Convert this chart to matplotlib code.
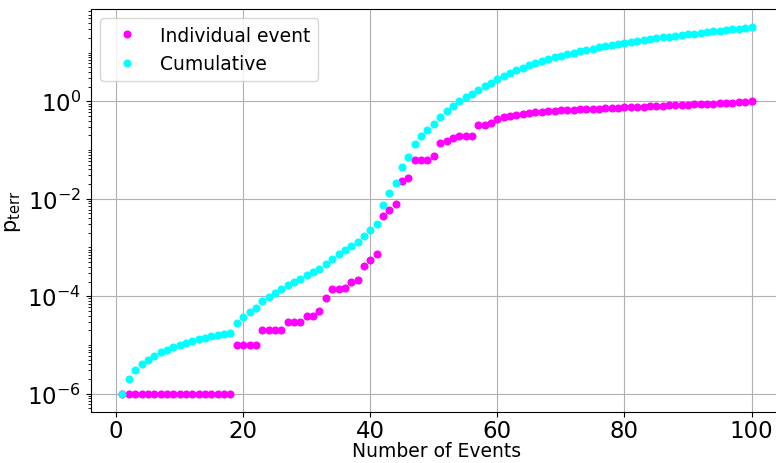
import numpy as np
import matplotlib
matplotlib.use("Agg")
import matplotlib.pyplot as plt
from matplotlib.ticker import LogLocator, NullFormatter

# probability of each event, events numbered 1..100
n_events = np.arange(1, 101)
p_individual = np.array(
    [1e-6] * 18
    + [1e-5] * 4
    + [2e-5] * 4
    + [3e-5] * 3
    + [4e-5] * 2
    + [5e-5, 9e-5, 1.4e-4, 1.4e-4, 1.5e-4, 2.0e-4, 2.2e-4, 4.2e-4, 5.5e-4, 7.4e-4]
    + [4.4e-3, 5.8e-3, 7.9e-3, 0.023, 0.027, 0.063, 0.063, 0.063, 0.077]
    + [0.139, 0.153, 0.18, 0.197, 0.197, 0.197]
    + [0.33, 0.33, 0.35, 0.43, 0.47, 0.50, 0.53, 0.56, 0.58, 0.60]
    + [0.61, 0.63, 0.64, 0.65, 0.66, 0.67, 0.68, 0.69, 0.70, 0.71]
    + [0.72, 0.73, 0.74, 0.75, 0.76, 0.77, 0.78, 0.79, 0.80, 0.81]
    + [0.82, 0.83, 0.84, 0.85, 0.86, 0.87, 0.88, 0.89, 0.91, 0.92]
    + [0.94, 0.96, 0.98, 1.00]
)
p_cumulative = np.cumsum(p_individual)

fig = plt.figure(figsize=(7.76, 4.64), dpi=100)
ax = fig.add_axes([91 / 776, 51 / 464, 692 / 776, 403 / 464])

ax.plot(n_events, p_individual, "o", color="#ff00ff", ms=4.8, ls="none",
        label="Individual event")
ax.plot(n_events, p_cumulative, "o", color="#00ffff", ms=4.8, ls="none",
        label="Cumulative")

ax.set_yscale("log")
# labelled ticks every second decade, minor ticks everywhere else
ax.yaxis.set_major_locator(LogLocator(base=100))
ax.yaxis.set_minor_locator(LogLocator(base=10, subs=np.arange(1, 10), numticks=100))
ax.yaxis.set_minor_formatter(NullFormatter())

ax.grid(True)
ax.set_xlabel("Number of Events", fontsize=13.5, labelpad=-1)
ax.set_ylabel(r"p$_{\mathrm{terr}}$", fontsize=15, labelpad=3)
ax.tick_params(axis="both", which="major", labelsize=16.5)
ax.tick_params(axis="x", pad=1.5)
ax.legend(loc="upper left", fontsize=13.5)

fig.savefig("out.png", dpi=100)
